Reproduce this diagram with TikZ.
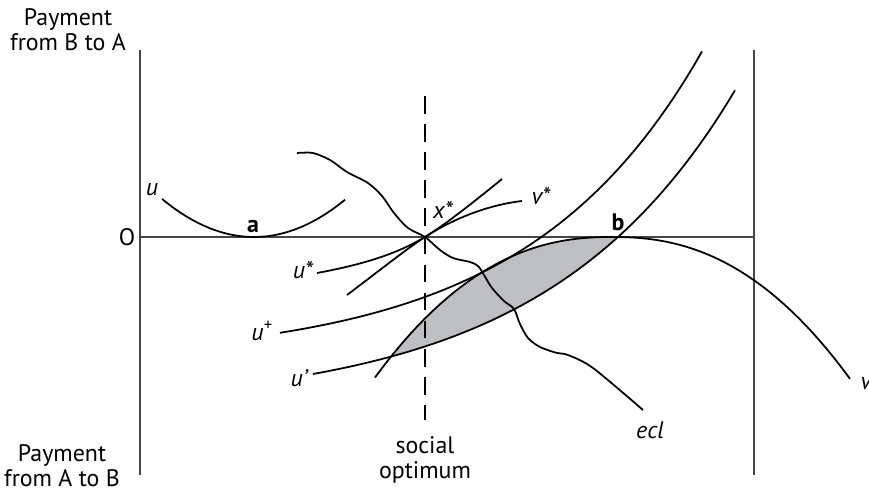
\documentclass[tikz,border=0pt]{standalone}
\usepackage{fontspec}
\setmainfont{PT Sans}
\usepackage{tikz}
\usetikzlibrary{calc,positioning}
\definecolor{AxisGray}{RGB}{70,70,70}
\definecolor{LensGray}{RGB}{190,191,195}

\begin{document}
\begin{tikzpicture}[x=0.02cm,y=-0.02cm,
    font=\fontsize{13.6}{14.4}\selectfont,
    curve/.style={line width=1pt,black},
    axisline/.style={line width=0.7pt,AxisGray},
    lbl/.style={inner sep=0pt,align=center},
    declare function={vc(\x)=237+19.31*((abs(\x-612)+0.01)/100)^2.3;
      up(\x)=237-171*(exp(0.0053*(\x-618))-1);
      uplus(\x)=360.6-88.6*exp(0.0057*(\x-483));
      ua(\x)=237-0.0045*(\x-254)^2;}]
      \useasboundingbox (0,0) rectangle (869,494);
      \fill[LensGray] plot[domain=390:618,samples=50] (\x,{vc(\x)}) -- plot[domain=618:390,samples=50] (\x,{up(\x)}) -- cycle;
      \draw[axisline] (140,50)--(140,475);
      \draw[axisline] (754,50)--(754,475);
      \draw[axisline,line width=0.6pt] (140,237)--(754,237);
      \draw[line width=0.9pt,dash pattern=on 10 off 6] (425,96)--(425,420);
      \coordinate (xstar) at (425,237);
      \draw[curve] plot[domain=162:345,samples=40] (\x,{ua(\x)});
      \draw[curve] plot[domain=375:850,samples=96] (\x,{vc(\x)});
      \draw[curve] plot[domain=313:735,samples=60] (\x,{up(\x)});
      \draw[curve] plot[domain=280:702,samples=60] (\x,{uplus(\x)});
      \draw[curve] (317,273) .. controls (360,265) and (395,255) .. (xstar) .. controls (445,225) and (480,197) .. (502,179);
      \draw[curve] (347,295) .. controls (375,274) and (405,250) .. (xstar) .. controls (445,224) and (480,206) .. (522,201);
      \draw[curve] plot[smooth,tension=0.5] coordinates {(297,153) (313,153) (330,160) (347,172) (368,183) (382,196) (394,213) (408,228) (425,237) (440,250) (453,258) (470,262) (478,266) (484,275) (492,288) (504,301) (514,309) (520,324) (528,338) (540,347) (557,353) (568,355) (593,368) (643,410)};
      \node[lbl] (toplbl) at (68,30) {Payment\\from B to A};
      \node[lbl] (botlbl) at (62,466) {Payment\\from A to B};
      \node[lbl] (origin) at (127,237) {O};
      \node[lbl] (lblu) at (152,190) {\itshape u};
      \node[lbl] (lbla) at (253,226) {\bfseries a};
      \node[lbl] (lblb) at (618,222) {\bfseries b};
      \node[lbl] (lblustar) at (303,270) {\itshape u*};
      \node[lbl] (lbluplus) at (262,331) {\itshape u\textsuperscript{+}};
      \node[lbl] (lbluprime) at (299,378) {\itshape u’};
      \node[lbl] (lblxstar) at (443,210) {\itshape x*};
      \node[lbl] (lblvstar) at (541,196) {\itshape v*};
      \node[lbl] (lblv) at (866,384) {\itshape v};
      \node[lbl] (lblecl) at (650,430) {\itshape ecl};
      \node[lbl] (optlbl) at (425,460) {social\\optimum};
    \end{tikzpicture}
\end{document}
